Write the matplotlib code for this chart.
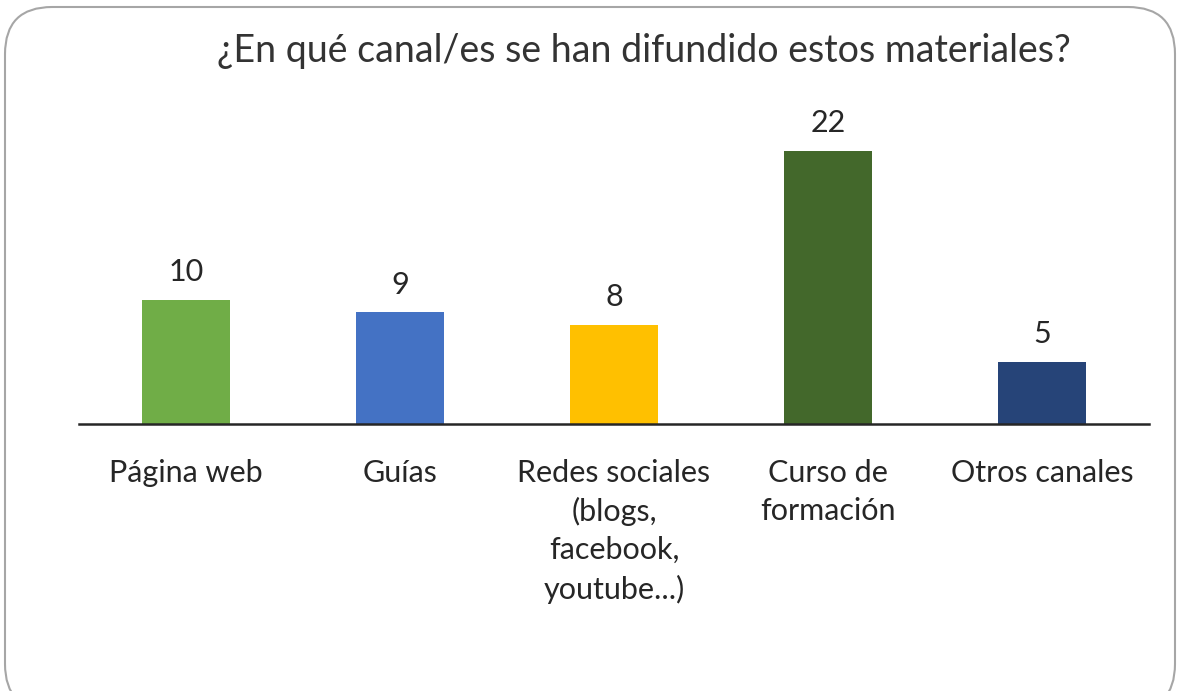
"""
Canales de difusión de los materiales: gráfico de barras
"""

import matplotlib.pyplot as plt
from matplotlib.patches import FancyBboxPatch

# Datos
canales = [
    "Página web",
    "Guías",
    "Redes sociales\n(blogs,\nfacebook,\nyoutube...)",
    "Curso de\nformación",
    "Otros canales",
]
respuestas = [10, 9, 8, 22, 5]
colores = ["#70AD47", "#4472C4", "#FFC000", "#43682B", "#264478"]

plt.rcParams["font.family"] = ["Lato", "DejaVu Sans"]

fig = plt.figure(figsize=(11.78, 6.91), dpi=100)

# Marco redondeado alrededor del gráfico
marco = FancyBboxPatch(
    (5 / 1178, -20 / 691),
    1170 / 1178,
    (691 - 7 + 20) / 691,
    boxstyle="round,pad=0,rounding_size=0.04",
    transform=fig.transFigure,
    facecolor="white",
    edgecolor="#a6a6a6",
    linewidth=1.5,
    mutation_aspect=1178 / 691,
    zorder=-5,
)
fig.patches.append(marco)

ax = fig.add_axes([79 / 1178, (691 - 424) / 691, 1070 / 1178, 310 / 691])
ax.patch.set_alpha(0)

pos = range(len(canales))
barras = ax.bar(pos, respuestas, width=0.41, color=colores)
ax.bar_label(barras, labels=[str(v) for v in respuestas], padding=10,
             fontsize=22, color="#262626")

ax.set_xlim(-0.5, len(canales) - 0.5)
ax.set_ylim(0, 25)
ax.set_xticks(list(pos))
ax.set_xticklabels(canales, fontsize=22, color="#262626", linespacing=1.43,
                   va="top")
ax.tick_params(axis="x", length=0, pad=25)
ax.set_yticks([])
for lado in ["left", "right", "top"]:
    ax.spines[lado].set_visible(False)
ax.spines["bottom"].set_color("#262626")
ax.spines["bottom"].set_linewidth(1.8)

fig.text(644 / 1178, 1 - 51 / 691,
         "¿En qué canal/es se han difundido estos materiales?",
         ha="center", va="center", fontsize=27, color="#333333")

fig.savefig("out.png", dpi=100)
